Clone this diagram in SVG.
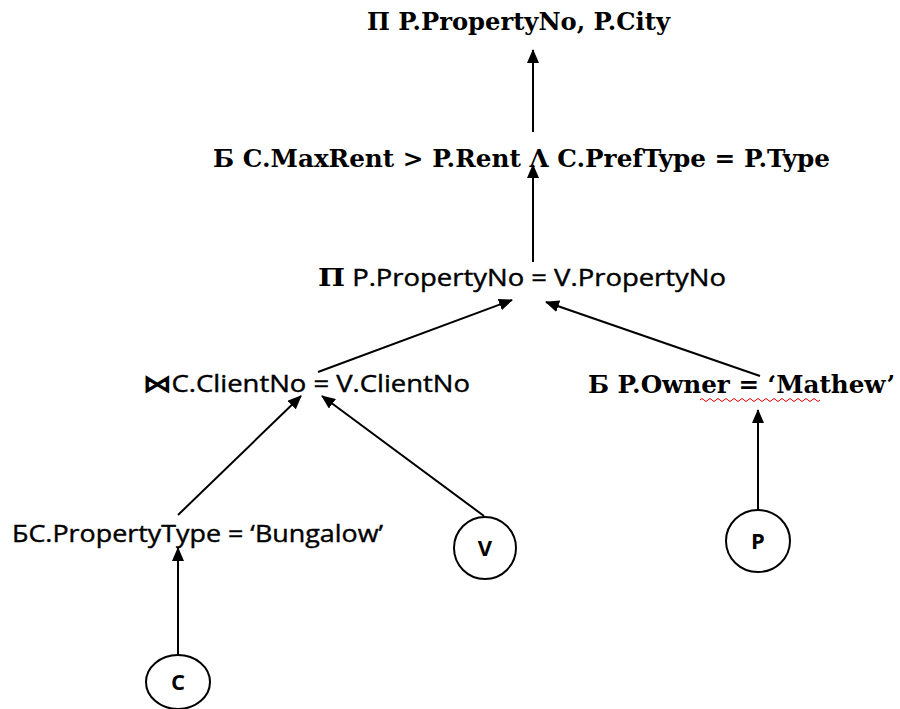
<svg xmlns="http://www.w3.org/2000/svg" width="900" height="709" viewBox="0 0 900 709">
<defs>
<marker id="ahs" markerWidth="14" markerHeight="12" refX="13" refY="6" orient="auto" markerUnits="userSpaceOnUse"><path d="M0,0 L14,6 L0,12 z" fill="#000"/></marker>
<style>
.serif{font-family:"DejaVu Serif","Liberation Serif",serif;font-weight:bold;font-size:24px;fill:#000}
.sans{font-family:"Open Sans","Liberation Sans",sans-serif;font-size:23px;fill:#000;stroke:#000;stroke-width:0.4}
.circ{fill:#fff;stroke:#000;stroke-width:2}
.lbl{font-family:"Open Sans","Liberation Sans",sans-serif;font-weight:bold;font-size:22px;text-anchor:middle;fill:#000}
.edge{stroke:#000;stroke-width:2;fill:none;marker-end:url(#ahs)}
</style>
</defs>
<g id="connectors">
<line class="edge" x1="533" y1="132" x2="533" y2="50"/>
<line class="edge" x1="533" y1="262" x2="533" y2="165"/>
<line class="edge" x1="318" y1="372" x2="512" y2="300"/>
<line class="edge" x1="760" y1="376" x2="546" y2="302"/>
<line class="edge" x1="178" y1="515" x2="301" y2="396"/>
<line class="edge" x1="484" y1="516" x2="322" y2="396"/>
<line class="edge" x1="758" y1="510" x2="758" y2="410"/>
<line class="edge" x1="178" y1="655" x2="178" y2="548"/>
</g>
<g id="n1"><text class="serif" x="367" y="30" textLength="303" lengthAdjust="spacingAndGlyphs">Π P.PropertyNo, P.City</text></g>
<g id="n2"><text class="serif" x="213" y="167" textLength="617" lengthAdjust="spacingAndGlyphs">Б C.MaxRent &gt; P.Rent Λ C.PrefType = P.Type</text></g>
<g id="n3"><text x="318" y="286" class="sans" textLength="408" lengthAdjust="spacingAndGlyphs"><tspan class="serif" stroke="none">Π</tspan> P.PropertyNo = V.PropertyNo</text></g>
<g id="n4"><text x="143" y="392" class="sans" textLength="327" lengthAdjust="spacingAndGlyphs"><tspan class="serif" stroke="none" font-size="18">⋈</tspan>C.ClientNo = V.ClientNo</text></g>
<g id="n5"><text class="serif" x="588" y="393" textLength="307" lengthAdjust="spacingAndGlyphs">Б P.Owner = ‘Mathew’</text>
<path d="M700,400 q2,-3 4,0 t4,0 t4,0 t4,0 t4,0 t4,0 t4,0 t4,0 t4,0 t4,0 t4,0 t4,0 t4,0 t4,0 t4,0 t4,0 t4,0 t4,0 t4,0 t4,0 t4,0 t4,0 t4,0 t4,0 t4,0 t4,0 t4,0 t4,0 t4,0 t4,0" stroke="#e00" stroke-width="1" fill="none"/></g>
<g id="n6"><text class="sans" x="12" y="542" textLength="371" lengthAdjust="spacingAndGlyphs">БC.PropertyType = ‘Bungalow’</text></g>
<g id="nV"><ellipse class="circ" cx="485" cy="548" rx="31" ry="31"/><text class="lbl" x="485" y="556">V</text></g>
<g id="nP"><ellipse class="circ" cx="758" cy="541" rx="32" ry="31"/><text class="lbl" x="758" y="549">P</text></g>
<g id="nC"><ellipse class="circ" cx="178" cy="682" rx="32" ry="27"/><text class="lbl" x="178" y="690">C</text></g>
</svg>
